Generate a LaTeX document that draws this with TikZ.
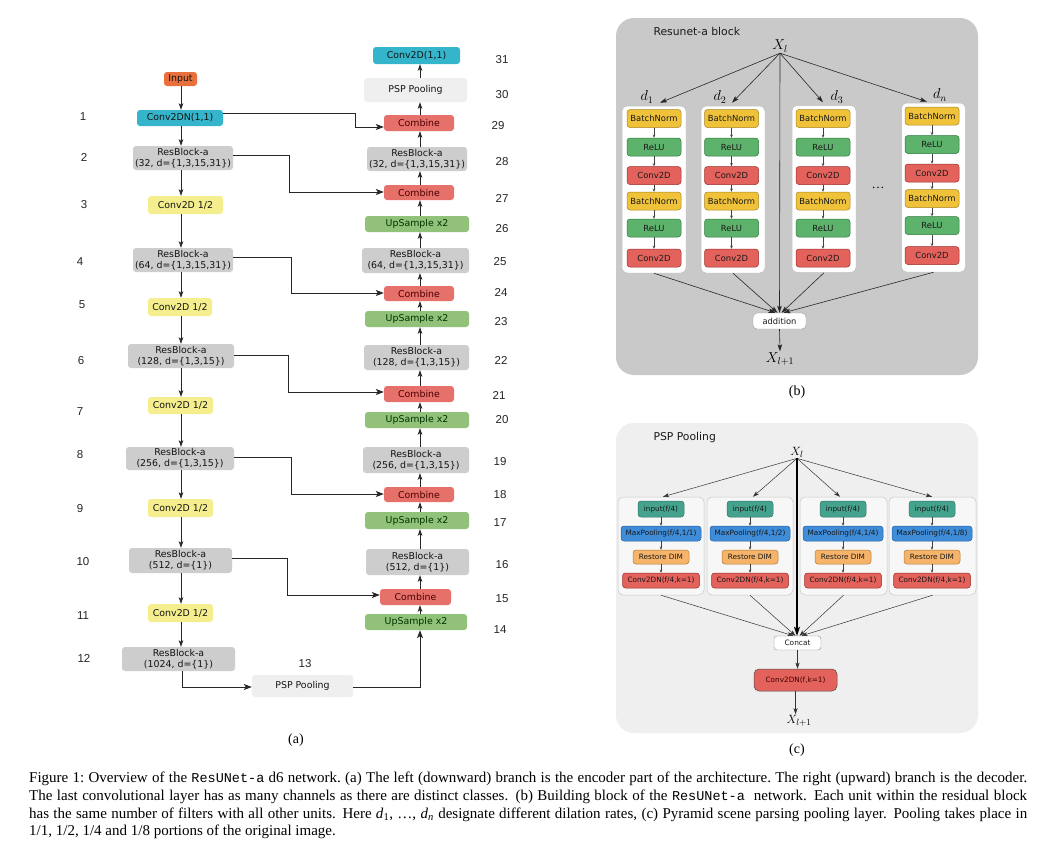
\documentclass[tikz,border=0pt]{standalone}
\usepackage{fontspec}
\setmainfont{Liberation Serif}
\setsansfont{DejaVu Sans}
\setmonofont[Scale=0.9]{Liberation Mono}
\newfontfamily\numfont{Liberation Sans}
\usetikzlibrary{arrows.meta,calc}
\definecolor{cIn}{HTML}{E9703C}
\definecolor{cCy}{HTML}{34B5CB}
\definecolor{cRes}{HTML}{CDCDCD}
\definecolor{cY}{HTML}{F4EE8E}
\definecolor{cCmb}{HTML}{E6716B}
\definecolor{cUp}{HTML}{92C27A}
\definecolor{cPsp}{HTML}{EFEFEF}
\definecolor{cBgB}{HTML}{C9C9C9}
\definecolor{cBN}{HTML}{EFC23A}
\definecolor{cBNd}{HTML}{A98520}
\definecolor{cRL}{HTML}{5DB26C}
\definecolor{cRLd}{HTML}{2F7A3D}
\definecolor{cCV}{HTML}{E3625C}
\definecolor{cCVd}{HTML}{9C2F2A}
\definecolor{cBgC}{HTML}{EFEFEF}
\definecolor{cIP}{HTML}{45A38D}
\definecolor{cIPd}{HTML}{2D7564}
\definecolor{cMP}{HTML}{3F8CD9}
\definecolor{cMPd}{HTML}{2460A0}
\definecolor{cRD}{HTML}{F6B46A}
\definecolor{cRDd}{HTML}{B07A35}
\begin{document}
\begin{tikzpicture}[x=1pt,y=-1pt,
 abox/.style={rounded corners=3pt, inner sep=0pt, align=center, text=black!92, font=\sffamily\fontsize{9.4}{11.3}\selectfont},
 res/.style={abox, fill=cRes},
 cvh/.style={abox, fill=cY, minimum height=18pt},
 cmb/.style={abox, fill=cCmb, minimum width=70pt, minimum height=16pt, text=red!30!black},
 ups/.style={abox, fill=cUp, minimum width=104pt, minimum height=16pt, text=green!20!black},
 num/.style={font=\numfont\fontsize{11.5}{13}\selectfont, text=black!85, inner sep=0pt},
 arr/.style={-{Stealth[length=6.5pt,width=4.5pt,inset=1.5pt]}, line width=0.8pt, black!85},
 skip/.style={-{Stealth[length=8pt,width=6pt,inset=2pt]}, line width=0.8pt, black!85},
 lab/.style={font=\fontsize{14}{16}\selectfont, inner sep=1pt},
 ttl/.style={anchor=west, font=\sffamily\fontsize{10.8}{12}\selectfont, text=black!90},
 colb/.style={draw=black!25, fill=white, rounded corners=5pt, line width=0.5pt, minimum width=64pt, minimum height=167pt, inner sep=0pt},
 ib/.style={rounded corners=3pt, line width=0.5pt, minimum width=54pt, minimum height=18pt, inner sep=0pt, text=black!90, font=\sffamily\fontsize{8.4}{9}\selectfont},
 bn/.style={ib, fill=cBN, draw=cBNd},
 rl/.style={ib, fill=cRL, draw=cRLd},
 cv/.style={ib, fill=cCV, draw=cCVd},
 tiny/.style={-{Stealth[length=3pt,width=2.5pt]}, line width=0.4pt, black!75},
 barr/.style={-{Stealth[length=7pt,width=4.5pt,inset=1.5pt]}, line width=0.6pt, black!85},
 colc/.style={draw=black!22, fill=white!97!black, rounded corners=5pt, line width=0.5pt, minimum width=86pt, minimum height=98pt, inner sep=0pt},
 pb/.style={rounded corners=3pt, line width=0.5pt, inner sep=0pt, text=black!90, font=\sffamily\fontsize{7.3}{8}\selectfont},
 ip/.style={pb, fill=cIP, draw=cIPd, minimum width=46pt, minimum height=16pt},
 mp/.style={pb, fill=cMP, draw=cMPd, minimum width=80pt, minimum height=15pt},
 rd/.style={pb, fill=cRD, draw=cRDd, minimum width=56pt, minimum height=14pt},
 cn/.style={pb, fill=cCV, draw=cCVd, minimum width=77pt, minimum height=15pt},
 carr/.style={-{Stealth[length=6pt,width=4pt,inset=1.5pt]}, line width=0.5pt, black!80}
]
\useasboundingbox[fill=white] (0,0) rectangle (1037,847);

% ================= (a) =================
\coordinate (Lx) at (181,0);
\coordinate (Rx) at (420,0);
\node[abox, fill=cIn, minimum width=33pt, minimum height=14pt] (inp) at (180.5,79) {Input};
\node[abox, fill=cCy, minimum width=86pt, minimum height=16pt] (c1) at (180,118) {Conv2DN(1,1)};
\node[res, minimum width=100pt, minimum height=24pt] (r2) at (183,158) {ResBlock-a\\(32, d=\{1,3,15,31\})};
\node[cvh, minimum width=75pt] (s3) at (185.5,205) {Conv2D 1/2};
\node[res, minimum width=100pt, minimum height=24pt] (r4) at (183,260) {ResBlock-a\\(64, d=\{1,3,15,31\})};
\node[cvh, minimum width=64pt] (s5) at (180,307) {Conv2D 1/2};
\node[res, minimum width=106pt, minimum height=24pt] (r6) at (181,356) {ResBlock-a\\(128, d=\{1,3,15\})};
\node[cvh, minimum width=65pt, minimum height=17pt] (s7) at (180.5,405.5) {Conv2D 1/2};
\node[res, minimum width=108pt, minimum height=23pt] (r8) at (180,458.5) {ResBlock-a\\(256, d=\{1,3,15\})};
\node[cvh, minimum width=65pt] (s9) at (180.5,508) {Conv2D 1/2};
\node[res, minimum width=103pt, minimum height=25pt] (r10) at (180.5,560.5) {ResBlock-a\\(512, d=\{1\})};
\node[cvh, minimum width=65pt] (s11) at (180.5,613) {Conv2D 1/2};
\node[res, minimum width=113pt, minimum height=24pt] (r12) at (178.5,659) {ResBlock-a\\(1024, d=\{1\})};
\node[abox, fill=cPsp, minimum width=101pt, minimum height=22pt] (p13) at (302.5,686) {PSP Pooling};

\node[abox, fill=cCy, minimum width=87pt, minimum height=17pt] (o31) at (416.5,55.5) {Conv2D(1,1)};
\node[abox, fill=cPsp, minimum width=103pt, minimum height=24pt] (p30) at (415.5,90) {PSP Pooling};
\node[cmb] (m29) at (419,123) {Combine};
\node[res, minimum width=100pt, minimum height=24pt] (r28) at (417,159) {ResBlock-a\\(32, d=\{1,3,15,31\})};
\node[cmb, minimum height=15pt] (m27) at (419,192.5) {Combine};
\node[ups] (u26) at (417,224) {UpSample x2};
\node[res, minimum width=107pt, minimum height=25pt] (r25) at (415.5,260.5) {ResBlock-a\\(64, d=\{1,3,15,31\})};
\node[cmb, minimum height=15pt] (m24) at (419,293.5) {Combine};
\node[ups] (u23) at (417,319) {UpSample x2};
\node[res, minimum width=105pt, minimum height=25pt] (r22) at (416.5,357.5) {ResBlock-a\\(128, d=\{1,3,15\})};
\node[cmb] (m21) at (419,394) {Combine};
\node[ups] (u20) at (417,420) {UpSample x2};
\node[res, minimum width=106pt, minimum height=26pt] (r19) at (416,460) {ResBlock-a\\(256, d=\{1,3,15\})};
\node[cmb, minimum height=15pt] (m18) at (419,494.5) {Combine};
\node[ups, minimum height=17pt] (u17) at (417,520.5) {UpSample x2};
\node[res, minimum width=103pt, minimum height=26pt] (r16) at (417.5,562) {ResBlock-a\\(512, d=\{1\})};
\node[cmb, minimum width=71pt] (m15) at (415.5,597) {Combine};
\node[ups, minimum width=102pt] (u14) at (416,622) {UpSample x2};

% numbers
\node[num] (n1) at (83,117) {1};
\node[num] (n2) at (84,157) {2};
\node[num] (n3) at (84,205) {3};
\node[num] (n4) at (80,262) {4};
\node[num] (n5) at (82,305) {5};
\node[num] (n6) at (81,361) {6};
\node[num] (n7) at (80,412) {7};
\node[num] (n8) at (80,455) {8};
\node[num] (n9) at (80,509) {9};
\node[num] (n10) at (83,562) {10};
\node[num] (n11) at (83,616) {11};
\node[num] (n12) at (84,658) {12};
\node[num] (n13) at (305,664) {13};
\node[num] (n14) at (500,630) {14};
\node[num] (n15) at (502,599) {15};
\node[num] (n16) at (502,565) {16};
\node[num] (n17) at (500,523) {17};
\node[num] (n18) at (500,495) {18};
\node[num] (n19) at (500,462) {19};
\node[num] (n20) at (502,420) {20};
\node[num] (n21) at (499,395) {21};
\node[num] (n22) at (501,360) {22};
\node[num] (n23) at (501,322) {23};
\node[num] (n24) at (501,292) {24};
\node[num] (n25) at (500,262) {25};
\node[num] (n26) at (502,229) {26};
\node[num] (n27) at (502,198) {27};
\node[num] (n28) at (502,162) {28};
\node[num] (n29) at (498,126) {29};
\node[num] (n30) at (502,95) {30};
\node[num] (n31) at (502,60) {31};

% encoder arrows
\foreach \a/\b in {inp/c1,c1/r2,r2/s3,s3/r4,r4/s5,s5/r6,r6/s7,s7/r8,r8/s9,s9/r10,r10/s11,s11/r12}
  \draw[arr] (\a.south -| Lx) -- (\b.north -| Lx);
% decoder arrows
\foreach \a/\b in {u14/m15,m15/r16,r16/u17,u17/m18,m18/r19,r19/u20,u20/m21,m21/r22,r22/u23,u23/m24,m24/r25,r25/u26,u26/m27,m27/r28,r28/m29,m29/p30,p30/o31}
  \draw[arr] (\a.north -| Rx) -- (\b.south -| Rx);
% skip connections
\draw[skip] (c1.east |- 0,113) -| (355,127) -- (m29.west |- 0,127);
\draw[skip] (r2.east |- 0,155) -| (289,192) -- (m27.west |- 0,192);
\draw[skip] (r4.east |- 0,257) -| (291,293) -- (m24.west |- 0,293);
\draw[skip] (r6.east |- 0,355) -| (288,392) -- (m21.west |- 0,392);
\draw[skip] (r8.east |- 0,457) -| (291,494) -- (m18.west |- 0,494);
\draw[skip] (r10.east |- 0,558) -| (287,595) -- (m15.west |- 0,595);
\draw[skip] (r12.south -| 182,0) |- (p13.west |- 0,687);
\draw[skip] (p13.east |- 0,687) -| (u14.south -| Rx);

\node[lab] (la) at (296,740) {(a)};

% ================= (b) =================
\fill[cBgB, rounded corners=18pt] (616,18) rectangle (978,375);
\node[ttl] (tb) at (650,31) {Resunet-a block};
\node[lab] (xb) at (780,46) {$X_l$};
\node[colb] (cb1) at (654,189.5) {};
\node[colb] (cb2) at (733,189.5) {};
\node[colb] (cb3) at (824,189) {};
\node[colb, minimum height=169pt] (cb4) at (933.5,187.5) {};
\foreach \i/\x/\dy in {1/654/0,2/731.5/0,3/823/0,4/932/-2.5} {
  \node[bn] (bA\i) at (\x,{118.5+\dy}) {BatchNorm};
  \node[rl] (bB\i) at (\x,{147+\dy}) {ReLU};
  \node[cv] (bC\i) at (\x,{175.5+\dy}) {Conv2D};
  \node[bn] (bD\i) at (\x,{201+\dy}) {BatchNorm};
  \node[rl] (bE\i) at (\x,{228+\dy}) {ReLU};
  \node[cv] (bF\i) at (\x,{258+\dy}) {Conv2D};
  \draw[tiny] (bA\i) -- (bB\i);
  \draw[tiny] (bB\i) -- (bC\i);
  \draw[tiny] (bC\i) -- (bD\i);
  \draw[tiny] (bD\i) -- (bE\i);
  \draw[tiny] (bE\i) -- (bF\i);
}
\node[lab] (d1) at (647,97) {$d_1$};
\node[lab] (d2) at (720,97) {$d_2$};
\node[lab] (d3) at (837,97) {$d_3$};
\node[lab] (dn) at (940,95) {$d_n$};
\node[font=\fontsize{13}{14}\selectfont, inner sep=0pt] (dots) at (878,188) {\ldots};
\node[draw=black!40, fill=white, rounded corners=4pt, minimum width=53pt, minimum height=16pt, inner sep=0pt, text=black!90, font=\sffamily\fontsize{8.3}{10}\selectfont] (add) at (779.5,321) {addition};
\draw[barr] (xb.south) -- ([xshift=6pt,yshift=3pt]cb1.north);
\draw[barr] (xb.south) -- ([xshift=-1pt,yshift=3pt]cb2.north);
\draw[barr] (xb.south) -- ([xshift=-1pt,yshift=3pt]cb3.north);
\draw[barr] (xb.south) -- ([xshift=-6.5pt,yshift=1pt]cb4.north);
\draw[barr] (xb.south) -- (add.north);
\draw[barr] (cb1.south) -- ([xshift=-4pt]add.north);
\draw[barr] (cb2.south) -- ([xshift=-2pt]add.north);
\draw[barr] (cb3.south) -- ([xshift=2pt]add.north);
\draw[barr] (cb4.south) -- ([xshift=4pt]add.north);
\node[lab] (xb1) at (780,359) {$X_{l+1}$};
\draw[barr] (add.south) -- (xb1.north);
\node[lab] (lb) at (797,392) {(b)};

% ================= (c) =================
\fill[cBgC, rounded corners=18pt] (616,423) rectangle (978,733);
\node[ttl] (tc) at (650,438) {PSP Pooling};
\node[font=\fontsize{13}{15}\selectfont, inner sep=1pt] (xc) at (797,452) {$X_l$};
\node[colc] (cc1) at (661,546) {};
\node[colc] (cc2) at (750,546) {};
\node[colc, minimum width=87pt] (cc3) at (843.5,546) {};
\node[colc, minimum width=87pt] (cc4) at (932.5,546) {};
\foreach \i/\x/\f in {1/661/1,2/750/2,3/843/4,4/932/8} {
  \node[ip] (pA\i) at (\x,509) {input(f/4)};
  \node[mp] (pB\i) at (\x,533.5) {MaxPooling(f/4,1/\f)};
  \node[rd] (pC\i) at (\x,557) {Restore DIM};
  \node[cn] (pD\i) at (\x,580.5) {Conv2DN(f/4,k=1)};
  \draw[tiny] (pA\i) -- (pB\i);
  \draw[tiny] (pB\i) -- (pC\i);
  \draw[tiny] (pC\i) -- (pD\i);
}
\node[draw=black!45, fill=white, rounded corners=3pt, minimum width=47pt, minimum height=14pt, inner sep=0pt, text=black!90, font=\sffamily\fontsize{7.4}{8}\selectfont] (cat) at (797.5,643) {Concat};
\node[draw=black!70, fill=cCV, rounded corners=5pt, line width=0.5pt, minimum width=83pt, minimum height=22pt, inner sep=0pt, text=red!25!black, font=\sffamily\fontsize{7.3}{8}\selectfont] (cvf) at (795.5,680) {Conv2DN(f,k=1)};
\draw[carr] (xc.south) -- ([xshift=2pt]cc1.north);
\draw[carr] (xc.south) -- ([xshift=3pt]cc2.north);
\draw[carr] (xc.south) -- ([xshift=-3.5pt]cc3.north);
\draw[carr] (xc.south) -- ([xshift=-0.5pt]cc4.north);
\draw[-{Stealth[length=9pt,width=6pt,inset=2pt]}, line width=1.3pt] (xc.south) -- (xc.south |- cat.north);
\draw[carr] (cc1.south) -- ([xshift=-4pt]cat.north);
\draw[carr] (cc2.south) -- ([xshift=-2pt]cat.north);
\draw[carr] (cc3.south) -- ([xshift=2pt]cat.north);
\draw[carr] (cc4.south) -- ([xshift=4pt]cat.north);
\node[font=\fontsize{13}{15}\selectfont, inner sep=1pt] (xc1) at (799,721) {$X_{l+1}$};
\draw[carr] (cat.south) -- (cat.south |- cvf.north);
\draw[carr] (cvf.south) -- (cvf.south |- xc1.north);
\node[lab] (lc) at (797,750) {(c)};

% ================= caption =================
\node[anchor=north west, inner sep=0pt, align=left, font=\fontsize{15}{17.9}\selectfont] (cap) at (29,771.5) {\frenchspacing
\makebox[998pt][s]{Figure 1: Overview of the \texttt{ResUNet-a} d6 network. (a) The left (downward) branch is the encoder part of the architecture. The right (upward) branch is the decoder.}\\
\makebox[998pt][s]{The last convolutional layer has as many channels as there are distinct classes. (b) Building block of the \texttt{ResUNet-a}\ \ network. Each unit within the residual block}\\
\makebox[998pt][s]{has the same number of filters with all other units. Here \textit{d}\textsubscript{1}, \ldots, \textit{d}\textsubscript{\textit{n}} designate different dilation rates, (c) Pyramid scene parsing pooling layer. Pooling takes place in}\\
1/1, 1/2, 1/4 and 1/8 portions of the original image.};
\end{tikzpicture}
\end{document}
